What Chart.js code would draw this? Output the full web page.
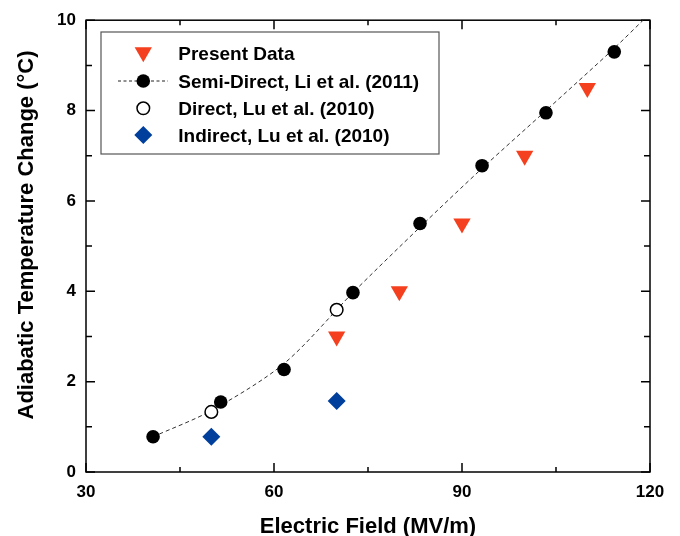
<!DOCTYPE html>
<html><head><meta charset="utf-8">
<script src="https://cdn.jsdelivr.net/npm/chart.js@4.4.0/dist/chart.umd.min.js"></script>
<style>html,body{margin:0;padding:0;background:#fff}canvas{display:block}</style>
</head><body>
<canvas id="c" width="680" height="536"></canvas>
<script>
// ---- data ----
const xTickValues = [30, 60, 90, 120];
const xMinorTicks = [45, 75, 105];
const yTickValues = [0, 2, 4, 6, 8, 10];
const yMinorTicks = [1, 3, 5, 7, 9];

const presentX = [70, 80, 90, 100, 110];
const presentY = [3.0, 4.0, 5.5, 7.0, 8.5];

const semiX = [40.7, 51.5, 61.6, 72.6, 83.3, 93.2, 103.4, 114.3];
const semiY = [0.78, 1.55, 2.27, 3.97, 5.5, 6.78, 7.95, 9.3];

const directX = [50, 70];
const directY = [1.33, 3.59];

const indirectX = [50, 70];
const indirectY = [0.78, 1.57];

// dashed guide curve
const fitX = [40.7, 50, 61.6, 72.6, 83.3, 93.2, 103.4, 114.3, 118.9];
const fitY = [0.78, 1.36, 2.4, 3.97, 5.42, 6.72, 8.0, 9.38, 10.0];

const legendLabels = ['Present Data', 'Semi-Direct, Li et al. (2011)', 'Direct, Lu et al. (2010)', 'Indirect, Lu et al. (2010)'];
const xTitle = 'Electric Field (MV/m)';
const yTitle = 'Adiabatic Temperature Change (\u00B0C)';

// ---- styles ----
const RED = '#F4401E';
const BLUE = '#013F9D';
const FONT = "'Liberation Sans', Arial, sans-serif";

const pts = (xs, ys) => xs.map((x, i) => ({ x: x, y: ys[i] }));

function triDown(ctx, x, y, r) {
  const s = Math.sin(Math.PI / 3) * r;
  ctx.beginPath();
  ctx.moveTo(x, y + r);
  ctx.lineTo(x - s, y - r / 2);
  ctx.lineTo(x + s, y - r / 2);
  ctx.closePath();
}
function diamond(ctx, x, y, r) {
  ctx.beginPath();
  ctx.moveTo(x, y - r);
  ctx.lineTo(x + r, y);
  ctx.lineTo(x, y + r);
  ctx.lineTo(x - r, y);
  ctx.closePath();
}

const framePlugin = {
  id: 'frame',
  beforeDatasetsDraw(chart) {
    const { ctx, chartArea: a, scales } = chart;
    ctx.save();
    ctx.strokeStyle = '#000';
    ctx.lineWidth = 1.5;
    ctx.strokeRect(a.left, a.top, a.right - a.left, a.bottom - a.top);
    const tick = (vals, len, isX) => {
      vals.forEach(v => {
        ctx.beginPath();
        if (isX) {
          const px = scales.x.getPixelForValue(v);
          ctx.moveTo(px, a.bottom); ctx.lineTo(px, a.bottom - len);
          ctx.moveTo(px, a.top); ctx.lineTo(px, a.top + len);
        } else {
          const py = scales.y.getPixelForValue(v);
          ctx.moveTo(a.left, py); ctx.lineTo(a.left + len, py);
          ctx.moveTo(a.right, py); ctx.lineTo(a.right - len, py);
        }
        ctx.stroke();
      });
    };
    tick(xTickValues, 9, true);
    tick(xMinorTicks, 5, true);
    tick(yTickValues, 9, false);
    tick(yMinorTicks, 6, false);
    ctx.restore();
  },
  afterDraw(chart) {
    const { ctx, chartArea: a } = chart;
    ctx.save();
    ctx.fillStyle = '#000';
    ctx.font = 'bold 22px ' + FONT;
    ctx.textAlign = 'center';
    ctx.textBaseline = 'alphabetic';
    ctx.fillText(xTitle, (a.left + a.right) / 2, 533);
    ctx.translate(33, 235);
    ctx.rotate(-Math.PI / 2);
    ctx.fillText(yTitle, 0, 0);
    ctx.restore();

    // legend box
    ctx.save();
    ctx.fillStyle = '#fff';
    ctx.fillRect(101, 32, 338, 122);
    ctx.strokeStyle = '#555';
    ctx.lineWidth = 1.2;
    ctx.strokeRect(101, 32, 338, 122);
    const mx = 143.3;
    const rows = [53.3, 81, 108.3, 135];
    ctx.fillStyle = RED;
    triDown(ctx, mx, rows[0] - 1, 10); ctx.fill();
    ctx.strokeStyle = '#222';
    ctx.lineWidth = 1;
    ctx.setLineDash([3, 2.5]);
    ctx.beginPath(); ctx.moveTo(118, rows[1]); ctx.lineTo(168, rows[1]); ctx.stroke();
    ctx.setLineDash([]);
    ctx.fillStyle = '#000';
    ctx.beginPath(); ctx.arc(mx, rows[1], 6.8, 0, Math.PI * 2); ctx.fill();
    ctx.fillStyle = '#fff';
    ctx.strokeStyle = '#000';
    ctx.lineWidth = 1.5;
    ctx.beginPath(); ctx.arc(mx, rows[2], 6.3, 0, Math.PI * 2); ctx.fill(); ctx.stroke();
    ctx.fillStyle = BLUE;
    diamond(ctx, mx, rows[3], 9); ctx.fill();
    ctx.fillStyle = '#000';
    ctx.font = 'bold 19px ' + FONT;
    ctx.textAlign = 'left';
    ctx.textBaseline = 'alphabetic';
    legendLabels.forEach((t, i) => ctx.fillText(t, 178.3, rows[i] + 6.5));
    ctx.restore();
  }
};

const tickFont = { family: FONT, size: 17, weight: 'bold' };

new Chart(document.getElementById('c'), {
  type: 'scatter',
  data: {
    datasets: [
      { label: legendLabels[2], data: pts(directX, directY), order: 0,
        pointStyle: 'circle', pointRadius: 6.3, pointBackgroundColor: '#fff',
        pointBorderColor: '#000', pointBorderWidth: 1.5 },
      { label: legendLabels[0], data: pts(presentX, presentY), order: 1,
        pointStyle: 'triangle', rotation: 180, pointRadius: 10,
        pointBackgroundColor: RED, pointBorderColor: RED, pointBorderWidth: 0 },
      { label: legendLabels[3], data: pts(indirectX, indirectY), order: 2,
        pointStyle: 'rectRot', pointRadius: 9,
        pointBackgroundColor: BLUE, pointBorderColor: BLUE, pointBorderWidth: 0 },
      { label: legendLabels[1], data: pts(semiX, semiY), order: 3,
        pointStyle: 'circle', pointRadius: 6.8,
        pointBackgroundColor: '#000', pointBorderColor: '#000', pointBorderWidth: 0 },
      { label: 'fit', data: pts(fitX, fitY), order: 4,
        showLine: true, pointRadius: 0, borderColor: '#333', borderWidth: 1,
        borderDash: [4, 3], tension: 0.3, fill: false }
    ]
  },
  options: {
    responsive: false,
    animation: false,
    events: [],
    layout: { padding: { left: 0, right: 30, top: 19, bottom: 0 } },
    plugins: { legend: { display: false }, tooltip: { enabled: false } },
    scales: {
      x: {
        type: 'linear', min: 30, max: 120,
        afterBuildTicks: s => { s.ticks = xTickValues.map(v => ({ value: v })); },
        afterFit: s => { s.height = 64; },
        grid: { display: false, drawTicks: false },
        border: { display: false },
        ticks: { font: tickFont, color: '#000', padding: 10, maxRotation: 0 }
      },
      y: {
        type: 'linear', min: 0, max: 10,
        afterBuildTicks: s => { s.ticks = yTickValues.map(v => ({ value: v })); },
        afterFit: s => { s.width = 86; },
        grid: { display: false, drawTicks: false },
        border: { display: false },
        ticks: { font: tickFont, color: '#000', padding: 10 }
      }
    }
  },
  plugins: [framePlugin]
});
</script>
</body></html>
